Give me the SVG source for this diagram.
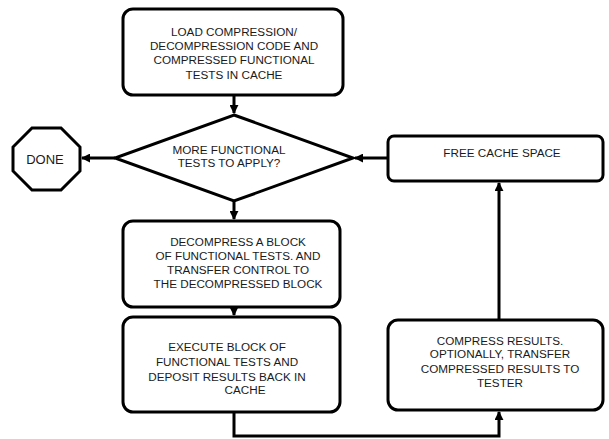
<svg xmlns="http://www.w3.org/2000/svg" width="609" height="439" viewBox="0 0 609 439">
<defs>
<style>
.box{fill:#fff;stroke:#000;stroke-width:3}
.ln{fill:none;stroke:#000;stroke-width:3}
text{font-family:"Liberation Sans",Arial,sans-serif;font-size:11.7px;fill:#1a1a1a;text-anchor:middle}
</style>
<marker id="ah" viewBox="0 0 10 10" refX="9" refY="5" markerWidth="3" markerHeight="3" orient="auto" markerUnits="strokeWidth">
<path d="M0,0 L10,5 L0,10 z" fill="#000"/>
</marker>
</defs>
<rect width="609" height="439" fill="#fff"/>
<g id="connectors">
<path class="ln" d="M234,95 V113" marker-end="url(#ah)"/>
<path class="ln" d="M234,201 V219" marker-end="url(#ah)"/>
<path class="ln" d="M234,307 V315" marker-end="url(#ah)"/>
<path class="ln" d="M115,158 H82" marker-end="url(#ah)"/>
<path class="ln" d="M388,158 H355" marker-end="url(#ah)"/>
<path class="ln" d="M234,412 V436 H499 V412" marker-end="url(#ah)"/>
<path class="ln" d="M499,320 V183" marker-end="url(#ah)"/>
</g>
<g id="load">
<rect class="box" x="123" y="9" width="220" height="86" rx="10"/>
<text x="234" y="36">LOAD COMPRESSION/</text>
<text x="234" y="50">DECOMPRESSION CODE AND</text>
<text x="234" y="64">COMPRESSED FUNCTIONAL</text>
<text x="234" y="79">TESTS IN CACHE</text>
</g>
<g id="decision">
<polygon class="box" points="234,115 353,158 234,201 115,158"/>
<text x="229" y="154">MORE FUNCTIONAL</text>
<text x="229" y="167">TESTS TO APPLY?</text>
</g>
<g id="done">
<polygon class="box" points="32,128 61,128 80,147 80,171 61,190 32,190 13,171 13,147"/>
<text x="45" y="164" style="font-size:13px">DONE</text>
</g>
<g id="free">
<rect class="box" x="388" y="136" width="215" height="45" rx="6"/>
<text x="502" y="157">FREE CACHE SPACE</text>
</g>
<g id="decompress">
<rect class="box" x="123" y="221" width="217" height="86" rx="10"/>
<text x="238" y="246">DECOMPRESS A BLOCK</text>
<text x="238" y="260">OF FUNCTIONAL TESTS. AND</text>
<text x="238" y="274">TRANSFER CONTROL  TO</text>
<text x="238" y="288">THE DECOMPRESSED BLOCK</text>
</g>
<g id="execute">
<rect class="box" x="123" y="317" width="217" height="95" rx="10"/>
<text x="227" y="351">EXECUTE BLOCK OF</text>
<text x="227" y="366">FUNCTIONAL TESTS AND</text>
<text x="227" y="381">DEPOSIT RESULTS BACK IN</text>
<text x="245" y="394">CACHE</text>
</g>
<g id="compress">
<rect class="box" x="388" y="320" width="215" height="90" rx="10"/>
<text x="500" y="345">COMPRESS RESULTS.</text>
<text x="500" y="358">OPTIONALLY, TRANSFER</text>
<text x="500" y="373">COMPRESSED RESULTS TO</text>
<text x="500" y="387">TESTER</text>
</g>
</svg>
